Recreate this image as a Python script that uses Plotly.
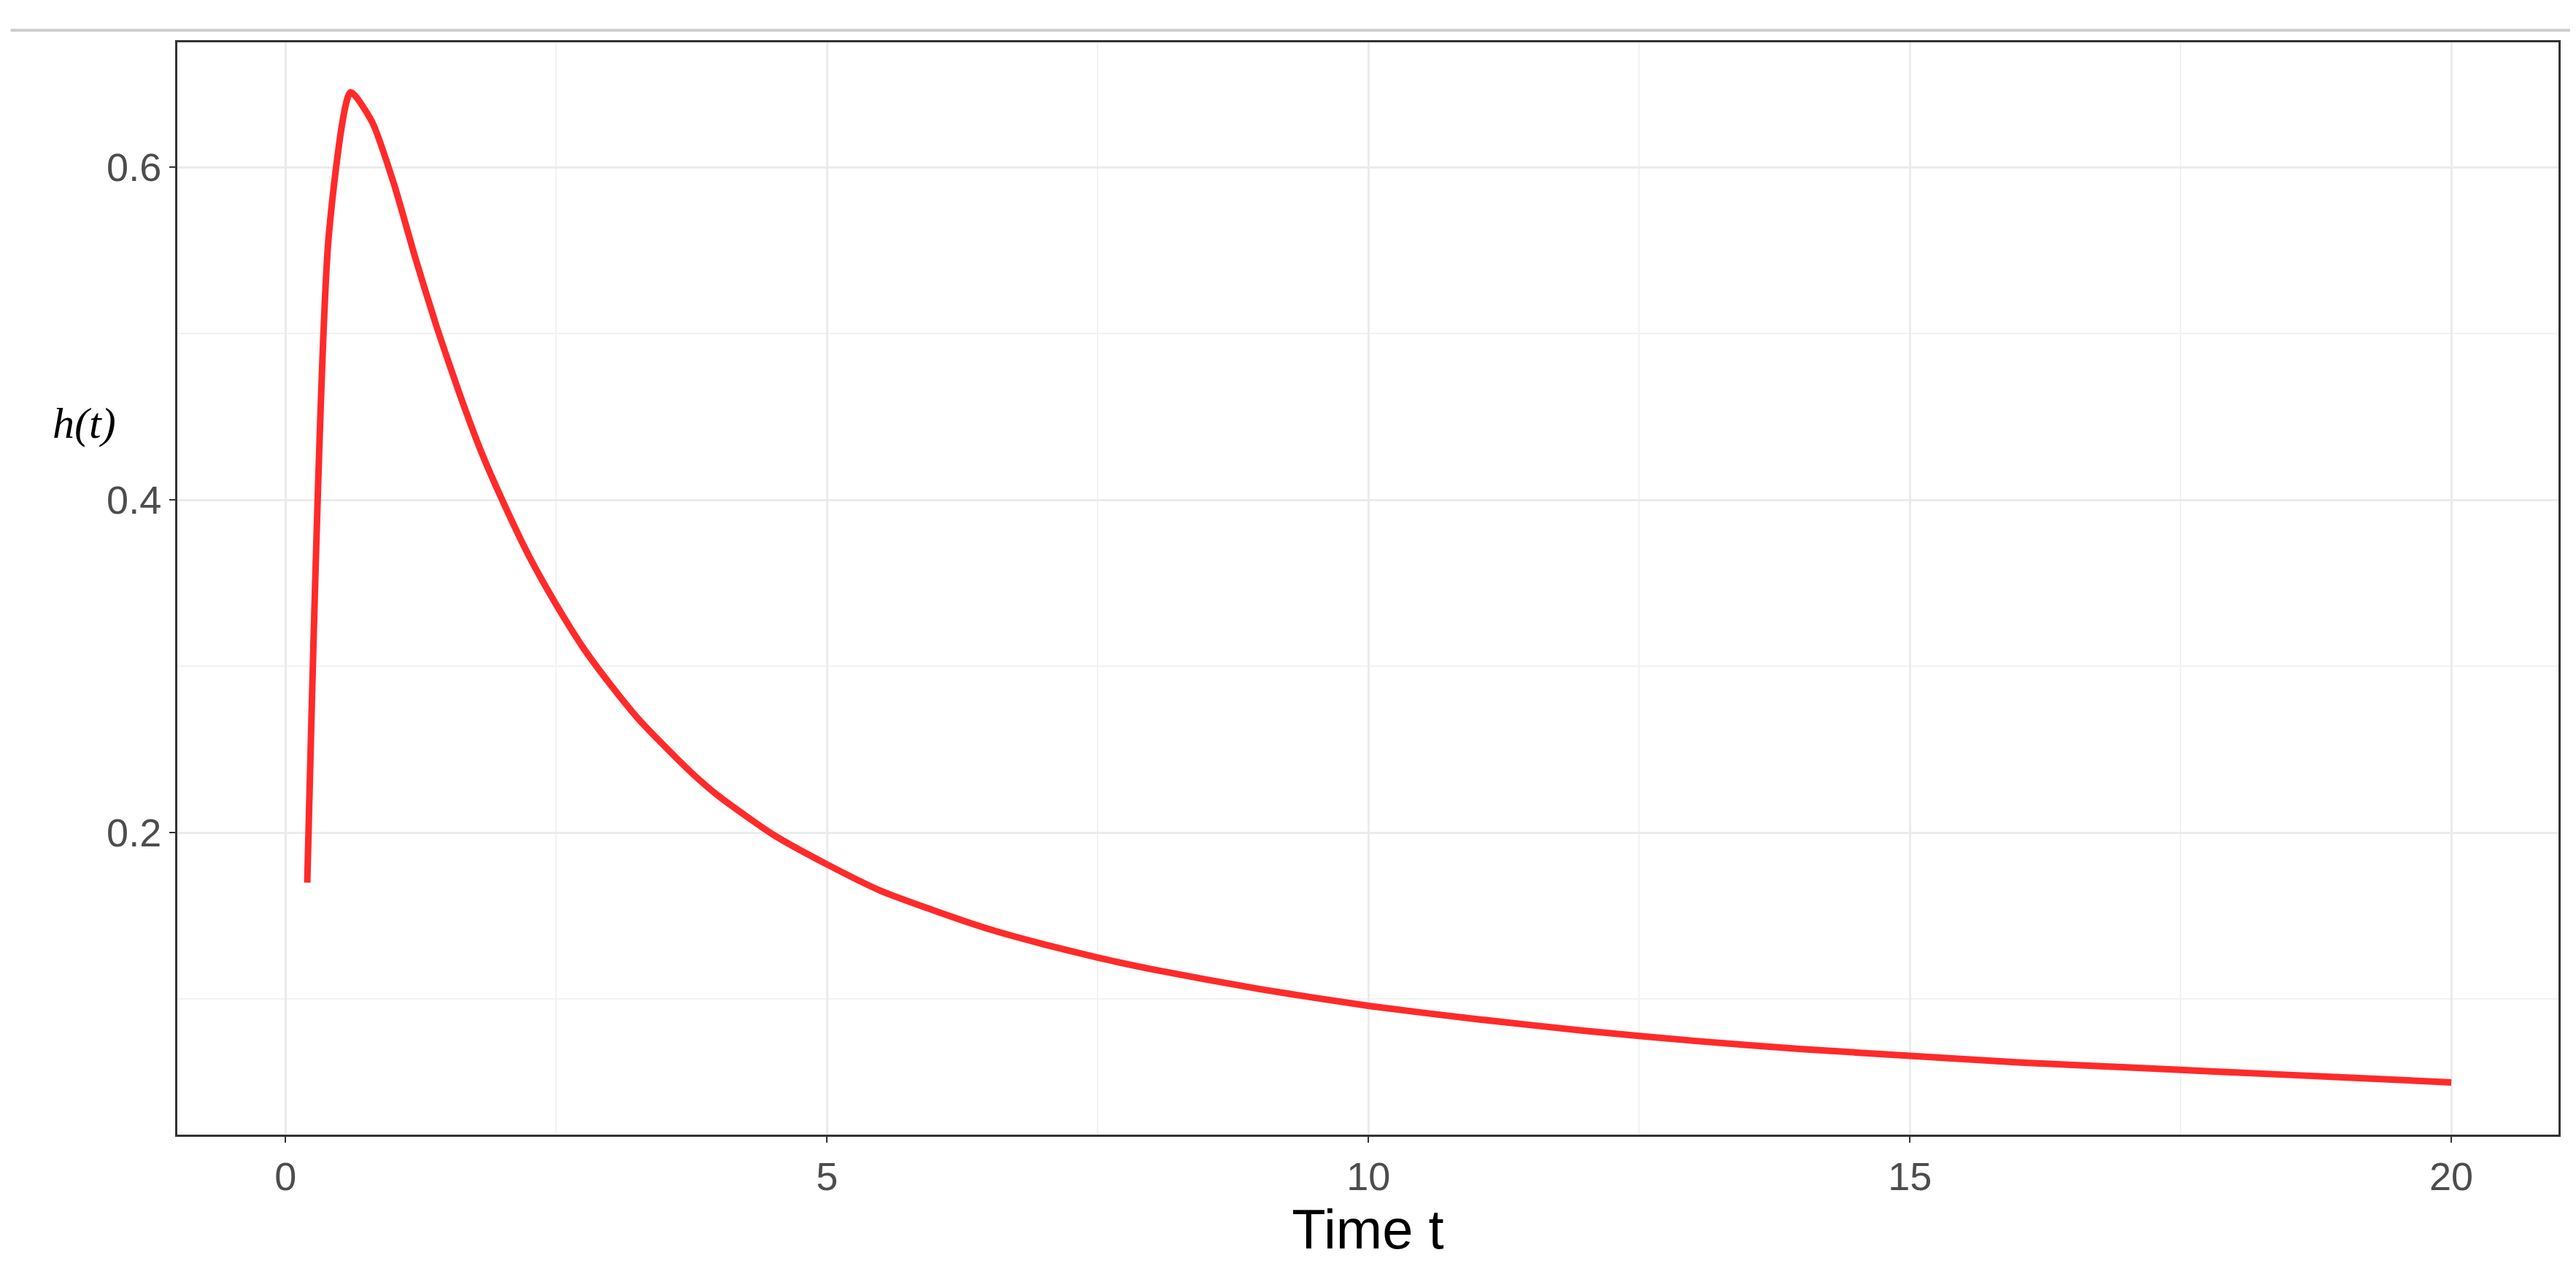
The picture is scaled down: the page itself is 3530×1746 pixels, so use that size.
import plotly.graph_objects as go

t = [0.2, 0.4, 0.6, 0.8, 1.0, 1.2, 1.4, 1.6, 1.8, 2.0, 2.25, 2.5, 2.75, 3.0, 3.25, 3.5, 3.75, 4.0, 4.5, 5.0, 5.5, 6.0, 6.5, 7.0, 7.5, 8.0, 9.0, 10.0, 11.0, 12.0, 13.0, 14.0, 15.0, 16.0, 17.0, 18.0, 19.0, 20.0]
h = [0.17, 0.56, 0.645, 0.627, 0.59, 0.545, 0.503, 0.465, 0.430, 0.400, 0.366, 0.337, 0.311, 0.289, 0.269, 0.252, 0.236, 0.222, 0.199, 0.181, 0.165, 0.153, 0.142, 0.133, 0.125, 0.118, 0.106, 0.096, 0.088, 0.081, 0.075, 0.070, 0.066, 0.062, 0.059, 0.056, 0.053, 0.050]
xticks = [0, 5, 10, 15, 20]
yticks = [0.2, 0.4, 0.6]

fig = go.Figure(go.Scatter(x=t, y=h, mode="lines", line=dict(color="#FF2A2A", width=9, shape="spline", smoothing=0.6)))
fig.update_layout(
    width=3530, height=1746, paper_bgcolor="white", plot_bgcolor="white",
    margin=dict(l=235, r=32, t=50, b=199), showlegend=False,
    font=dict(family="Liberation Sans, Arial", color="#4D4D4D"),
    xaxis=dict(range=[-1.0, 20.99], tickvals=xticks, ticktext=[str(v) for v in xticks],
               tickfont=dict(size=54), showgrid=True, gridcolor="#EBEBEB", gridwidth=3,
               minor=dict(tickvals=[2.5, 7.5, 12.5, 17.5], showgrid=True, gridcolor="#F2F2F2", gridwidth=2),
               showline=True, linecolor="#333333", linewidth=3, mirror=True, zeroline=False,
               ticks="outside", ticklen=8, tickcolor="#333333", tickwidth=2,
               title=dict(text="Time t", font=dict(size=76, color="black"), standoff=8)),
    yaxis=dict(range=[0.0186, 0.675], tickvals=yticks, ticktext=[str(v) for v in yticks],
               tickfont=dict(size=54), showgrid=True, gridcolor="#EBEBEB", gridwidth=3,
               minor=dict(tickvals=[0.1, 0.3, 0.5], showgrid=True, gridcolor="#F2F2F2", gridwidth=2),
               showline=True, linecolor="#333333", linewidth=3, mirror=True, zeroline=False,
               ticks="outside", ticklen=8, tickcolor="#333333", tickwidth=2),
)
fig.add_annotation(text="<i>h(t)</i>", xref="paper", yref="paper", x=-0.039, y=0.675,
                   showarrow=False, xanchor="center", font=dict(family="Liberation Serif", size=60, color="black"))
fig.add_shape(type="line", xref="paper", yref="paper", x0=-0.07, x1=1.01, y0=1.011, y1=1.011,
              line=dict(color="#CCCCCC", width=4))
fig.write_html("out.html")
